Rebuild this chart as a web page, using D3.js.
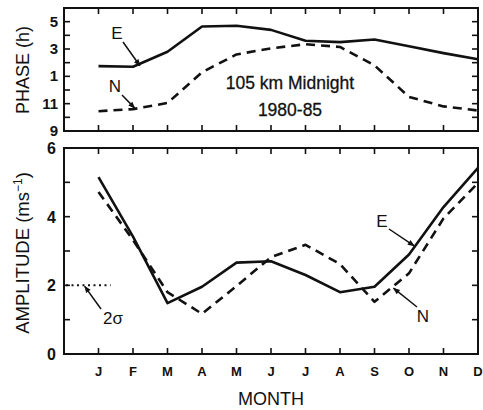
<!DOCTYPE html>
<html>
<head>
<meta charset="utf-8">
<script src="https://cdn.jsdelivr.net/npm/d3@7"></script>
<style>
  html, body { margin: 0; padding: 0; background: #fff; }
  svg { display: block; font-family: "Liberation Sans", Arial, sans-serif; }
</style>
</head>
<body>
<svg id="chart" width="483" height="410"></svg>
<script>
// Month positions: 1 = Jan ... 12 = Dec
const months = [1, 2, 3, 4, 5, 6, 7, 8, 9, 10, 11, 12];
const monthLabels = ["J", "F", "M", "A", "M", "J", "J", "A", "S", "O", "N", "D"];

// Phase in hours (values above 12 continue past midnight wrap: 13 = 1h)
const phaseE = [13.75, 13.7, 14.8, 16.65, 16.7, 16.4, 15.6, 15.5, 15.7, 15.2, 14.7, 14.25];
const phaseN = [10.45, 10.6, 11.05, 13.3, 14.6, 15.05, 15.35, 15.15, 13.8, 11.5, 10.8, 10.5];
const phaseTicks = [9, 11, 13, 15, 17];
const phaseTickLabels = ["9", "11", "1", "3", "5"];

// Amplitude (m/s)
const ampE = [5.15, 3.42, 1.48, 1.96, 2.66, 2.7, 2.3, 1.8, 1.96, 2.9, 4.28, 5.42];
const ampN = [4.72, 3.32, 1.8, 1.17, 1.98, 2.82, 3.18, 2.62, 1.52, 2.35, 3.95, 4.98];
const ampTicks = [0, 2, 4, 6];
const sigma2 = 2;

const svg = d3.select("#chart");
const left = 64, right = 478;

const x = d3.scaleLinear().domain([0, 12]).range([left, right]);
const yP = d3.scaleLinear().domain([9, 18]).range([131, 8]);
const yA = d3.scaleLinear().domain([0, 6]).range([354, 148]);

const ink = "#111";

function frame(y, top, bottom, minorStep) {
  const g = svg.append("g");
  g.append("rect")
    .attr("x", left).attr("y", top)
    .attr("width", right - left).attr("height", bottom - top)
    .attr("fill", "none").attr("stroke", ink).attr("stroke-width", 2);
  const tl = 6;
  // month ticks top and bottom, pointing inward
  months.slice(0, 11).forEach(m => {
    g.append("line").attr("x1", x(m)).attr("x2", x(m))
      .attr("y1", top).attr("y2", top + tl)
      .attr("stroke", ink).attr("stroke-width", 1.6);
    g.append("line").attr("x1", x(m)).attr("x2", x(m))
      .attr("y1", bottom).attr("y2", bottom - tl)
      .attr("stroke", ink).attr("stroke-width", 1.6);
  });
  // value ticks left and right
  const [d0, d1] = y.domain();
  d3.range(d0 + minorStep, d1, minorStep).forEach(v => {
    g.append("line").attr("x1", left).attr("x2", left + tl)
      .attr("y1", y(v)).attr("y2", y(v))
      .attr("stroke", ink).attr("stroke-width", 1.6);
    g.append("line").attr("x1", right).attr("x2", right - tl)
      .attr("y1", y(v)).attr("y2", y(v))
      .attr("stroke", ink).attr("stroke-width", 1.6);
  });
  return g;
}

frame(yP, 8, 131, 1);
frame(yA, 148, 354, 1);

// y tick labels
svg.append("g").selectAll("text").data(phaseTicks).join("text")
  .attr("x", 58).attr("y", d => yP(d) + 5)
  .attr("text-anchor", "end")
  .attr("font-size", 15).attr("font-weight", "bold").attr("fill", ink)
  .text((d, i) => phaseTickLabels[i]);

svg.append("g").selectAll("text").data(ampTicks).join("text")
  .attr("x", 56).attr("y", d => yA(d) + 6)
  .attr("text-anchor", "end")
  .attr("font-size", 16).attr("font-weight", "bold").attr("fill", ink)
  .text(d => d);

// month labels
svg.append("g").selectAll("text").data(months).join("text")
  .attr("x", d => x(d)).attr("y", 376)
  .attr("text-anchor", "middle")
  .attr("font-size", 13).attr("font-weight", "bold").attr("fill", ink)
  .text((d, i) => monthLabels[i]);

// axis titles
svg.append("text").attr("x", 271).attr("y", 405)
  .attr("text-anchor", "middle").attr("font-size", 18).attr("fill", ink)
  .text("MONTH");

svg.append("text")
  .attr("transform", "translate(29,70) rotate(-90)")
  .attr("text-anchor", "middle").attr("font-size", 18).attr("fill", ink)
  .text("PHASE (h)");

const ampTitle = svg.append("text")
  .attr("transform", "translate(29,253) rotate(-90)")
  .attr("text-anchor", "middle").attr("font-size", 18.5).attr("fill", ink);
ampTitle.append("tspan").text("AMPLITUDE (ms");
ampTitle.append("tspan").attr("font-size", 12).attr("dy", -7).text("−1");
ampTitle.append("tspan").attr("dy", 7).text(")");

// series lines
const lineP = d3.line().x((d, i) => x(months[i])).y(d => yP(d));
const lineA = d3.line().x((d, i) => x(months[i])).y(d => yA(d));

function draw(gen, data, dashed) {
  svg.append("path").datum(data).attr("d", gen)
    .attr("fill", "none").attr("stroke", ink).attr("stroke-width", 2.6)
    .attr("stroke-linejoin", "round")
    .attr("stroke-dasharray", dashed ? "9,6" : null);
}
draw(lineP, phaseE, false);
draw(lineP, phaseN, true);
draw(lineA, ampE, false);
draw(lineA, ampN, true);

// 2-sigma reference
svg.append("line")
  .attr("x1", left + 2).attr("x2", x(1.35))
  .attr("y1", yA(sigma2)).attr("y2", yA(sigma2))
  .attr("stroke", ink).attr("stroke-width", 2).attr("stroke-dasharray", "2,3.5");

// arrow heads
svg.append("defs").append("marker")
  .attr("id", "head").attr("viewBox", "0 0 10 10")
  .attr("refX", 9).attr("refY", 5)
  .attr("markerWidth", 9).attr("markerHeight", 7)
  .attr("markerUnits", "userSpaceOnUse")
  .attr("orient", "auto")
  .append("path").attr("d", "M0,1 L10,5 L0,9 Z").attr("fill", ink);

function note(label, tx, ty, x1, y1, x2, y2) {
  svg.append("text").attr("x", tx).attr("y", ty)
    .attr("text-anchor", "middle").attr("font-size", 17).attr("fill", ink)
    .text(label);
  svg.append("line").attr("x1", x1).attr("y1", y1).attr("x2", x2).attr("y2", y2)
    .attr("stroke", ink).attr("stroke-width", 1.5).attr("marker-end", "url(#head)");
}

// annotations (pointers aim at points on the series)
note("E", 117, 39, 123, 42, x(2.2), yP(phaseE[1]) - 1);
note("N", 115, 92, 122, 95, x(2.05), yP(phaseN[1]) - 1);
note("E", 382, 227, 389, 229, x(10.15), yA(3.15));
note("N", 423, 322, 417, 307, x(9.55), yA(1.52 + 0.55 * (2.35 - 1.52)) + 2);

svg.append("text").attr("x", 103).attr("y", 324)
  .attr("font-size", 17).attr("fill", ink).text("2σ");
svg.append("line").attr("x1", 101).attr("y1", 309).attr("x2", x(0.6)).attr("y2", yA(sigma2) + 1)
  .attr("stroke", ink).attr("stroke-width", 1.5).attr("marker-end", "url(#head)");

// panel caption
svg.append("text").attr("x", 290).attr("y", 89)
  .attr("text-anchor", "middle").attr("font-size", 17.5).attr("fill", ink)
  .attr("stroke", ink).attr("stroke-width", 0.3)
  .text("105 km  Midnight");
svg.append("text").attr("x", 290).attr("y", 116)
  .attr("text-anchor", "middle").attr("font-size", 17.5).attr("fill", ink)
  .attr("stroke", ink).attr("stroke-width", 0.3)
  .text("1980-85");
</script>
</body>
</html>
